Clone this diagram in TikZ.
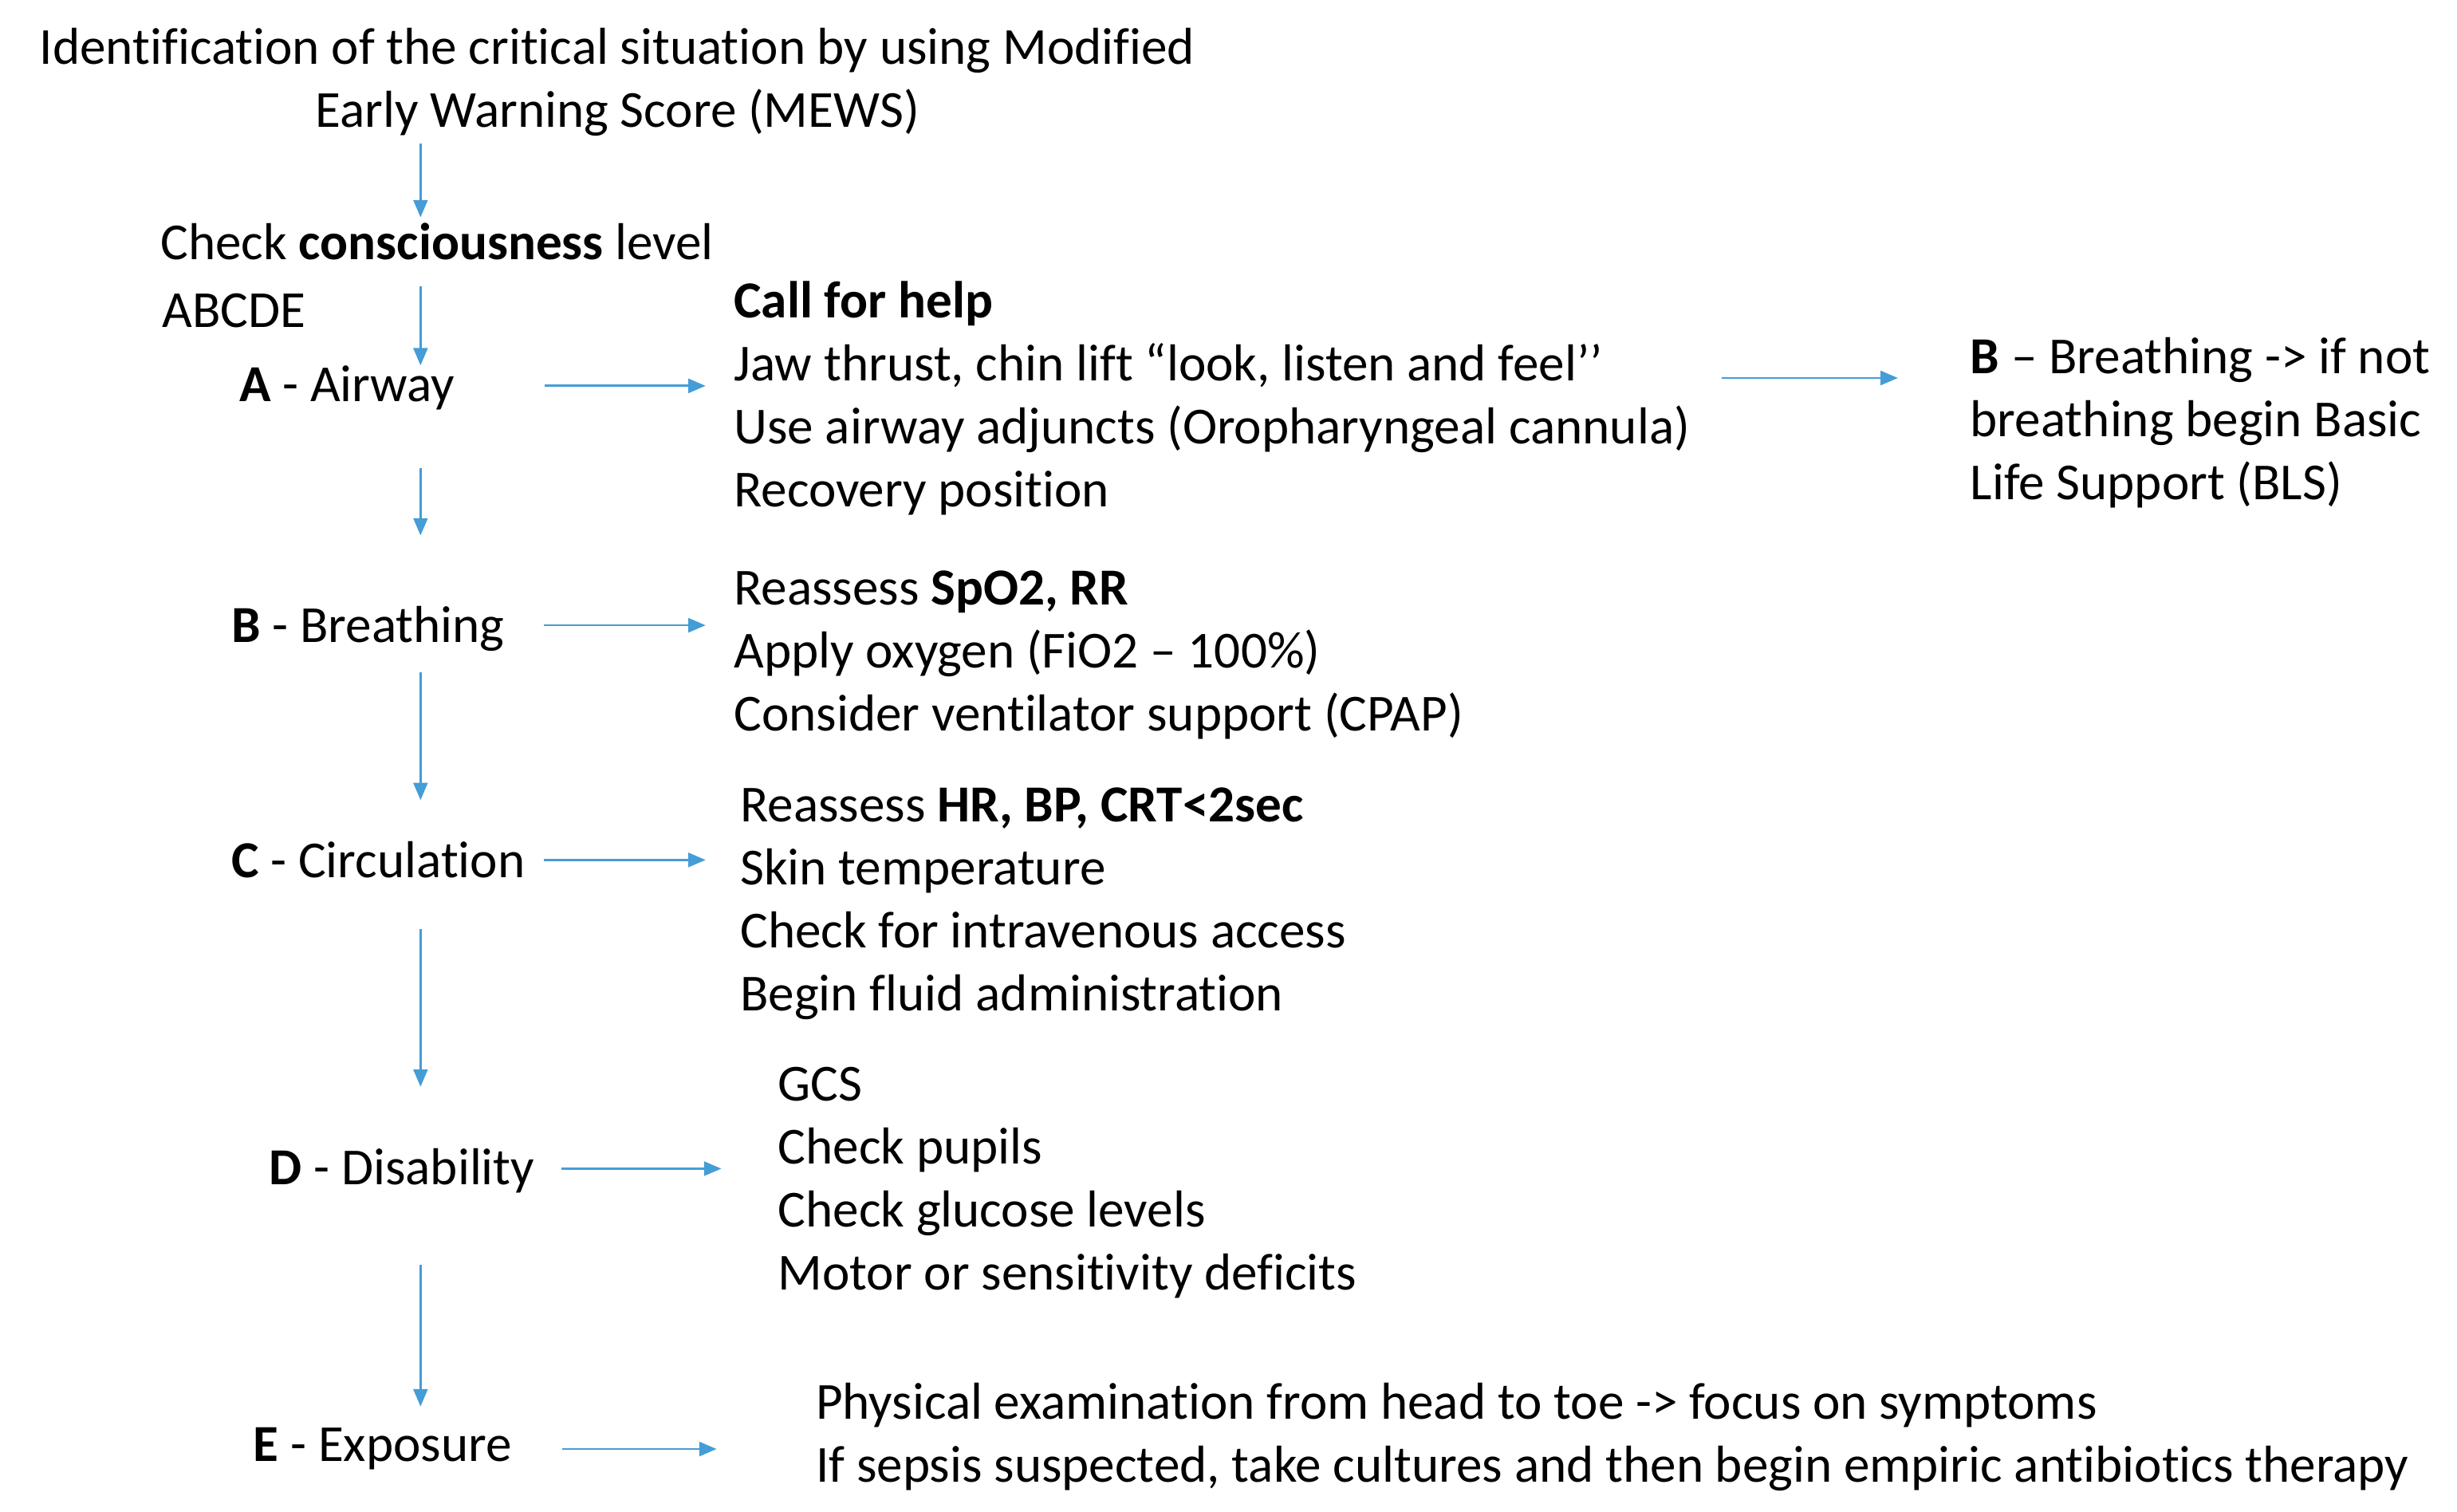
\documentclass[tikz,border=0pt]{standalone}
\usepackage{fontspec}
\setmainfont[Ligatures={TeX,NoCommon}]{Carlito}
\usetikzlibrary{arrows.meta}
\definecolor{arrowblue}{RGB}{68,157,214}
\newcommand{\mainsize}{\fontsize{33pt}{40pt}\selectfont}
\tikzset{
  txt/.style={inner sep=0pt, outer sep=0pt, font=\mainsize, text height=22pt, text depth=7pt},
  arr/.style={draw=arrowblue, line width=1.4pt, -{Triangle[length=11pt,width=9pt]}}
}
\begin{document}
\begin{tikzpicture}[x=1pt,y=-1pt]
\useasboundingbox (0,0) rectangle (1560,960);
% title
\node[txt,anchor=base] (t1) at (392,41) {Identification of the critical situation by using Modified};
\node[txt,anchor=base] (t2) at (392,81) {Early Warning Score (MEWS)};
\node[txt,anchor=base west] (check) at (102,165) {Check \textbf{consciousness} level};
\node[txt,anchor=base west] (abcde) at (103,208) {ABCDE};
% left column
\node[txt,anchor=base west] (A) at (152,255) {\textbf{A} - Airway};
\node[txt,anchor=base west] (B) at (147,408) {\textbf{B} - Breathing};
\node[txt,anchor=base west] (C) at (147,557) {\textbf{C} - Circulation};
\node[txt,anchor=base west] (D) at (171,752) {\textbf{D} - Disability};
\node[txt,anchor=base west] (E) at (161,928) {\textbf{E} - Exposure};
% airway list
\node[txt,anchor=base west] (a1) at (466,202) {\textbf{Call for help}};
\node[txt,anchor=base west] (a2) at (466,242) {Jaw thrust, chin lift “look, listen and feel’’};
\node[txt,anchor=base west] (a3) at (466,282) {Use airway adjuncts (Oropharyngeal cannula)};
\node[txt,anchor=base west] (a4) at (466,322) {Recovery position};
% BLS
\node[txt,anchor=base west] (r1) at (1251,237) {\textbf{B} – Breathing -> if not};
\node[txt,anchor=base west] (r2) at (1251,277) {breathing begin Basic};
\node[txt,anchor=base west] (r3) at (1251,317) {Life Support (BLS)};
% breathing list
\node[txt,anchor=base west] (b1) at (466,384) {Reassess \textbf{SpO2, RR}};
\node[txt,anchor=base west] (b2) at (466,424) {Apply oxygen (FiO2 – 100\%)};
\node[txt,anchor=base west] (b3) at (466,464) {Consider ventilator support (CPAP)};
% circulation list
\node[txt,anchor=base west] (c1) at (470,522) {Reassess \textbf{HR, BP, CRT<2sec}};
\node[txt,anchor=base west] (c2) at (470,562) {Skin temperature};
\node[txt,anchor=base west] (c3) at (470,602) {Check for intravenous access};
\node[txt,anchor=base west] (c4) at (470,642) {Begin fluid administration};
% disability list
\node[txt,anchor=base west] (d1) at (494,699) {GCS};
\node[txt,anchor=base west] (d2) at (494,739) {Check pupils};
\node[txt,anchor=base west] (d3) at (494,779) {Check glucose levels};
\node[txt,anchor=base west] (d4) at (494,819) {Motor or sensitivity deficits};
% exposure list
\node[txt,anchor=base west] (e1) at (518,901) {Physical examination from head to toe -> focus on symptoms};
\node[txt,anchor=base west] (e2) at (518,941) {If sepsis suspected, take cultures and then begin empiric antibiotics therapy};
% vertical axis
\coordinate (vx) at (267,0);
\draw[arr] ([yshift=-3pt]t2.south -| vx) -- ([yshift=5pt]check.north -| vx);
\draw[arr] ([yshift=-10pt]check.south -| vx) -- ([yshift=1pt]A.north -| vx);
\draw[arr] ([yshift=-35pt]A.south -| vx) -- ([yshift=46pt]B.north -| vx);
\draw[arr] ([yshift=-12pt]B.south -| vx) -- ([yshift=27pt]C.north -| vx);
\draw[arr] ([yshift=-26pt]C.south -| vx) -- ([yshift=40pt]D.north -| vx);
\draw[arr] ([yshift=-44pt]D.south -| vx) -- ([yshift=13pt]E.north -| vx);
% horizontal arrows
\draw[arr] ([xshift=57pt,yshift=2.5pt]A.east) -- ([xshift=-18pt,yshift=2.5pt]A.east -| a2.west);
\draw[arr] ([xshift=25pt,yshift=3.5pt]B.east) -- ([xshift=-18pt,yshift=3.5pt]B.east -| b1.west);
\draw[arr] ([xshift=12pt,yshift=3.5pt]C.east) -- ([xshift=-22pt,yshift=3.5pt]C.east -| c1.west);
\draw[arr] ([xshift=17pt,yshift=2.5pt]D.east) -- ([xshift=-36pt,yshift=2.5pt]D.east -| d1.west);
\draw[arr] ([xshift=32pt,yshift=0.5pt]E.east) -- ([xshift=-63pt,yshift=0.5pt]E.east -| e1.west);
\coordinate (rs) at ([xshift=20pt,yshift=34.5pt]a3.east);
\draw[arr] (rs) -- ([xshift=-46pt]rs -| r1.west);
\end{tikzpicture}
\end{document}
